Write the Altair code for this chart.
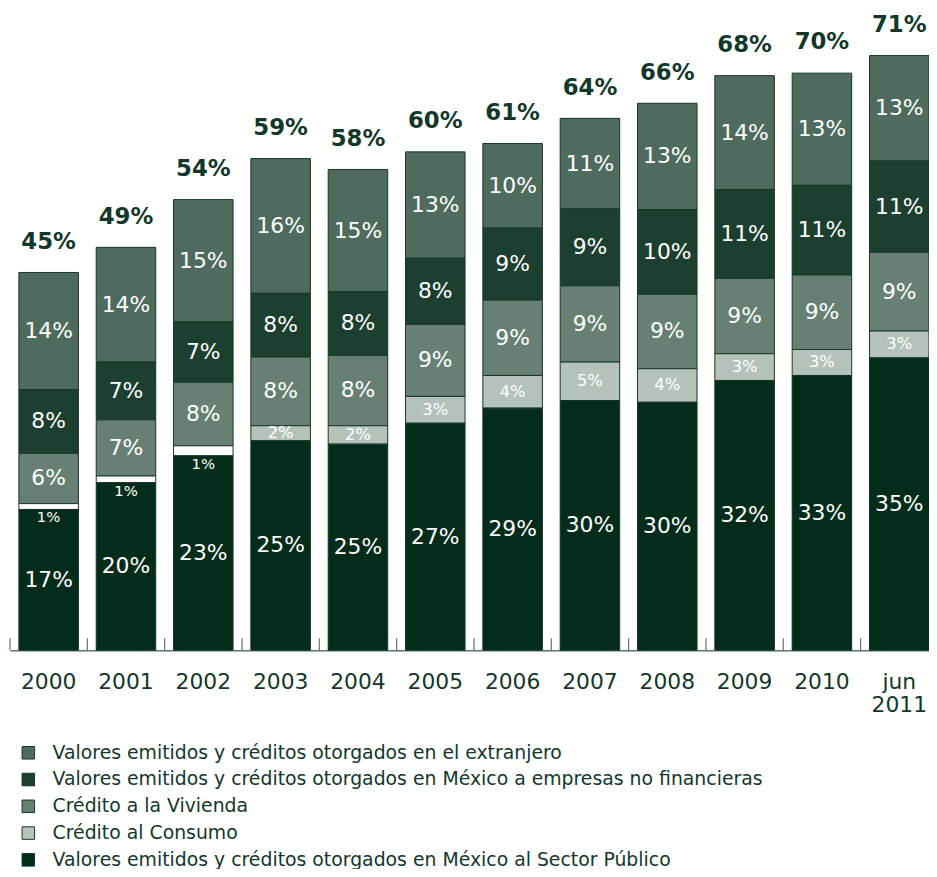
import altair as alt
import pandas as pd

# ---------------- data ----------------
years = ["2000", "2001", "2002", "2003", "2004", "2005", "2006",
         "2007", "2008", "2009", "2010", "jun 2011"]

sector_publico = [16.8, 20.0, 23.2, 25.0, 24.6, 27.1, 28.9, 29.8, 29.6, 32.2, 32.8, 34.9]
consumo        = [0.7, 0.8, 1.2, 1.8, 2.2, 3.2, 3.9, 4.6, 4.0, 3.2, 3.1, 3.2]
vivienda       = [6.0, 6.7, 7.6, 8.2, 8.4, 8.6, 9.0, 9.1, 8.9, 9.0, 8.9, 9.4]
empresas       = [7.6, 6.9, 7.2, 7.6, 7.6, 7.9, 8.6, 9.2, 10.1, 10.6, 10.7, 10.9]
extranjero     = [14.0, 13.7, 14.6, 16.1, 14.6, 12.7, 10.1, 10.8, 12.7, 13.6, 13.4, 12.6]
totales        = [45, 49, 54, 59, 58, 60, 61, 64, 66, 68, 70, 71]

series_names = [
    "Valores emitidos y créditos otorgados en el extranjero",
    "Valores emitidos y créditos otorgados en México a empresas no financieras",
    "Crédito a la Vivienda",
    "Crédito al Consumo",
    "Valores emitidos y créditos otorgados en México al Sector Público",
]
series_values = [extranjero, empresas, vivienda, consumo, sector_publico]
colors = ["#4f6b5e", "#1c3f2f", "#678073", "#b4c2ba", "#032c1b"]
white_years = ["2000", "2001", "2002"]   # consumo band drawn white in these years

# ---------------- tables ----------------
rows = []
n = len(series_names)
for si, (name, vals) in enumerate(zip(series_names, series_values)):
    for yr, v in zip(years, vals):
        small = name == "Crédito al Consumo"
        rows.append({
            "year": yr, "serie": name, "value": v, "orden": n - 1 - si,
            "label": f"{v:.0f}%", "small": small,
            "blank": bool(small and yr in white_years),
        })
df = pd.DataFrame(rows)

tops = [sum(s[i] for s in series_values) for i in range(len(years))]
tot_df = pd.DataFrame({"year": years, "top": tops, "tlabel": [f"{t}%" for t in totales]})

FONT = "DejaVu Sans"
TXT = "#12382a"
AXC = "#5d7668"
STROKE = "#163626"
H = 642
W = 927

x_scale = alt.Scale(domain=years, range=[0, 936], paddingInner=0, paddingOuter=0)
y_scale = alt.Scale(domain=[0, 76], nice=False)

x_enc = alt.X(
    "year:N", scale=x_scale, sort=years,
    axis=alt.Axis(
        title=None, domain=True, domainColor=AXC, domainWidth=1.5, ticks=False,
        labelFont=FONT, labelFontSize=22, labelColor=TXT, labelPadding=22,
        labelBaseline="top", labelAngle=0, labelExpr="split(datum.label, ' ')",
        labelLineHeight=23, labelOverlap=False,
    ),
)

base = alt.Chart(df).transform_stack(
    stack="value", groupby=["year"], as_=["y0", "y1"],
    sort=[alt.SortField("orden", order="ascending")],
)

bars = base.mark_bar(stroke=STROKE, strokeWidth=1, width=alt.RelativeBandSize(0.77)).encode(
    x=x_enc,
    y=alt.Y("y0:Q", scale=y_scale, axis=None),
    y2="y1:Q",
    color=alt.condition(
        "datum.blank",
        alt.value("white"),
        alt.Color(
            "serie:N",
            scale=alt.Scale(domain=series_names, range=colors),
            legend=alt.Legend(
                title=None, orient="none", legendX=9, legendY=736,
                direction="vertical", symbolType="square", symbolSize=160,
                symbolStrokeColor=STROKE, symbolStrokeWidth=1, symbolOpacity=1,
                labelFont=FONT, labelFontSize=19, labelColor=TXT, labelLimit=0,
                labelOffset=15, rowPadding=7,
            ),
        ),
    ),
)

text_main = base.transform_filter("!datum.small").transform_calculate(
    mid="(datum.y0 + datum.y1) / 2"
).mark_text(color="white", font=FONT, fontSize=22, baseline="middle").encode(
    x=alt.X("year:N", sort=years),
    y=alt.Y("mid:Q", scale=y_scale),
    text="label:N",
)

text_small = base.transform_filter("datum.small && !datum.blank").transform_calculate(
    mid="(datum.y0 + datum.y1) / 2"
).mark_text(color="white", font=FONT, fontSize=16.5, baseline="middle").encode(
    x=alt.X("year:N", sort=years),
    y=alt.Y("mid:Q", scale=y_scale),
    text="label:N",
)

text_blank = base.transform_filter("datum.blank").mark_text(
    color="white", font=FONT, fontSize=15, baseline="top", dy=1
).encode(
    x=alt.X("year:N", sort=years),
    y=alt.Y("y0:Q", scale=y_scale),
    text="label:N",
)

totals = alt.Chart(tot_df).mark_text(
    color=TXT, font=FONT, fontSize=23, fontWeight="bold", baseline="middle", dy=-31
).encode(
    x=alt.X("year:N", sort=years),
    y=alt.Y("top:Q", scale=y_scale),
    text="tlabel:N",
)

ticks = alt.Chart(pd.DataFrame({"year": years})).mark_rule(color=AXC, strokeWidth=1.2).encode(
    x=alt.X("year:N", sort=years, bandPosition=0),
    y=alt.value(H - 12),
    y2=alt.value(H),
)

chart = alt.layer(bars, text_main, text_small, text_blank, totals, ticks).properties(
    width=W, height=H,
    autosize=alt.AutoSizeParams(type="none"),
    padding={"left": 2, "top": 2, "right": 0, "bottom": 217},
    background="white",
).configure_view(stroke=None)

chart.save("out.html", embed_options={"renderer": "svg", "actions": False})
